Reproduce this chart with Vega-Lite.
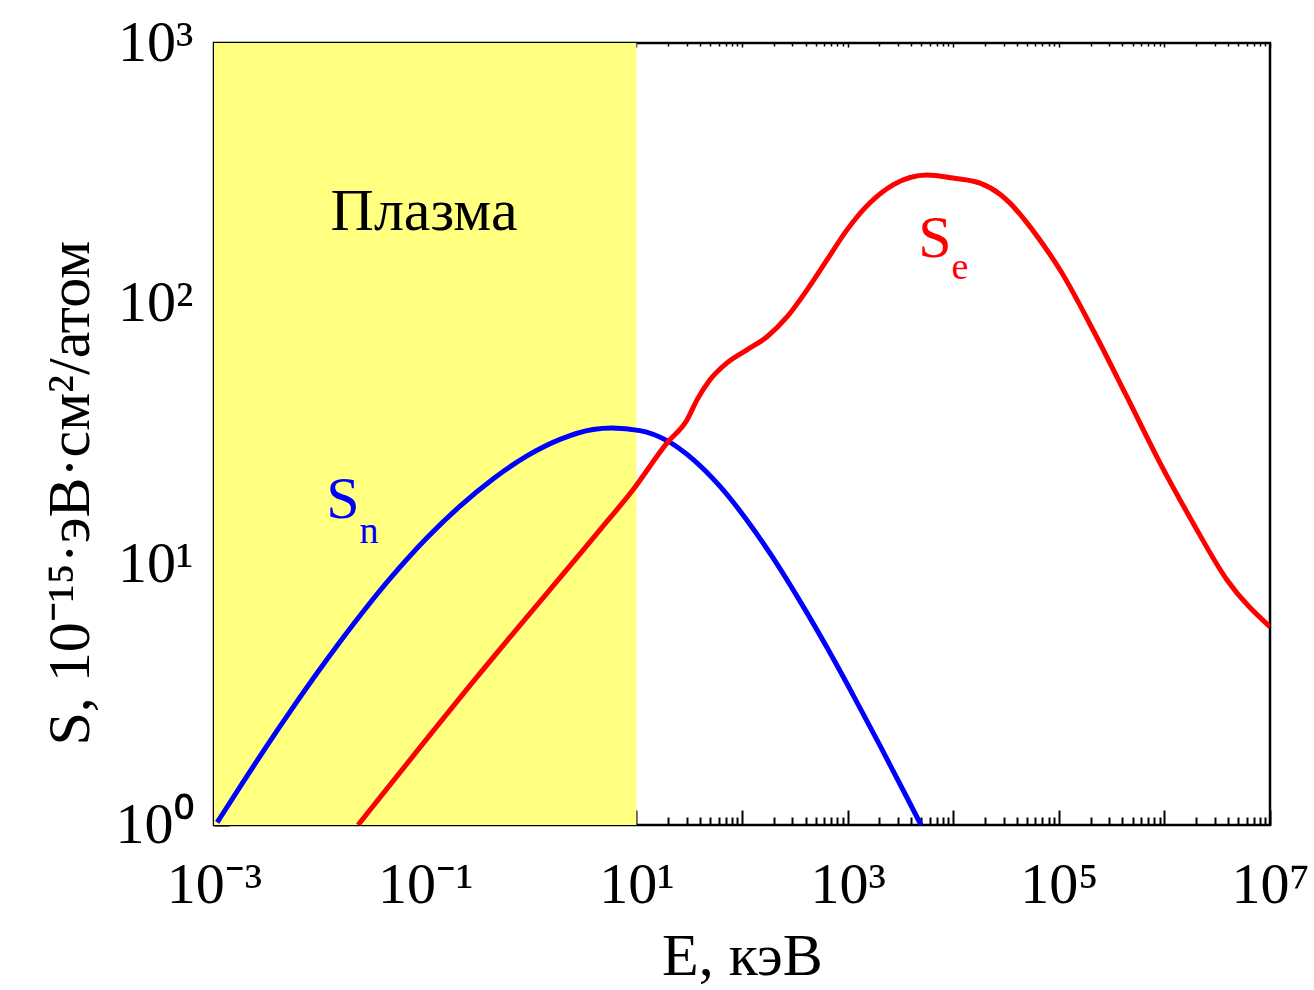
{
  "$schema": "https://vega.github.io/schema/vega-lite/v6.json",
  "width": 1056,
  "height": 782,
  "autosize": {"type": "none"},
  "padding": {"left": 214, "top": 43, "right": 44, "bottom": 165},
  "background": "white",
  "config": {
    "view": {"stroke": "black", "strokeWidth": 2.5},
    "axis": {
      "domain": false,
      "grid": false,
      "tickColor": "black",
      "tickWidth": 2,
      "labelFont": "Liberation Serif",
      "labelFontSize": 58,
      "labelColor": "black",
      "titleFont": "Liberation Serif",
      "titleFontSize": 60,
      "titleFontWeight": "normal",
      "titleColor": "black",
      "labelOverlap": false,
      "labelFlush": false,
      "labelBound": false
    }
  },
  "datasets": {
    "plasma": [{"E0": 0.001, "E1": 10}],
    "curves": [
      {"series": "Sn", "E": 0.001072, "S": 1.023},
      {"series": "Sn", "E": 0.00114, "S": 1.064},
      {"series": "Sn", "E": 0.001884, "S": 1.461},
      {"series": "Sn", "E": 0.003177, "S": 2.017},
      {"series": "Sn", "E": 0.005598, "S": 2.827},
      {"series": "Sn", "E": 0.01009, "S": 3.965},
      {"series": "Sn", "E": 0.01667, "S": 5.228},
      {"series": "Sn", "E": 0.02812, "S": 6.877},
      {"series": "Sn", "E": 0.04955, "S": 9.082},
      {"series": "Sn", "E": 0.104, "S": 12.64},
      {"series": "Sn", "E": 0.2138, "S": 16.73},
      {"series": "Sn", "E": 0.4385, "S": 21.25},
      {"series": "Sn", "E": 0.9204, "S": 26.06},
      {"series": "Sn", "E": 1.892, "S": 30.16},
      {"series": "Sn", "E": 3.882, "S": 32.91},
      {"series": "Sn", "E": 5.875, "S": 33.34},
      {"series": "Sn", "E": 10.81, "S": 32.57},
      {"series": "Sn", "E": 19.5, "S": 29.81},
      {"series": "Sn", "E": 34.36, "S": 25.27},
      {"series": "Sn", "E": 61.94, "S": 19.9},
      {"series": "Sn", "E": 111.4, "S": 14.76},
      {"series": "Sn", "E": 196.8, "S": 10.58},
      {"series": "Sn", "E": 354.0, "S": 7.224},
      {"series": "Sn", "E": 638.3, "S": 4.794},
      {"series": "Sn", "E": 1125, "S": 3.157},
      {"series": "Sn", "E": 2028, "S": 2.015},
      {"series": "Sn", "E": 3656, "S": 1.272},
      {"series": "Sn", "E": 4955, "S": 1.0},
      {"series": "Se", "E": 0.02312, "S": 1.0},
      {"series": "Se", "E": 0.3097, "S": 3.698},
      {"series": "Se", "E": 4.519, "S": 13.55},
      {"series": "Se", "E": 9.29, "S": 19.32},
      {"series": "Se", "E": 19.5, "S": 29.24},
      {"series": "Se", "E": 30.13, "S": 35.81},
      {"series": "Se", "E": 37.5, "S": 42.76},
      {"series": "Se", "E": 49.77, "S": 51.05},
      {"series": "Se", "E": 72.11, "S": 59.29},
      {"series": "Se", "E": 111.4, "S": 66.53},
      {"series": "Se", "E": 172.6, "S": 74.64},
      {"series": "Se", "E": 266.7, "S": 88.92},
      {"series": "Se", "E": 413.0, "S": 113.0},
      {"series": "Se", "E": 638.3, "S": 147.2},
      {"series": "Se", "E": 986.3, "S": 191.9},
      {"series": "Se", "E": 1629, "S": 243.8},
      {"series": "Se", "E": 2692, "S": 285.8},
      {"series": "Se", "E": 5649, "S": 311.9},
      {"series": "Se", "E": 9954, "S": 303.4},
      {"series": "Se", "E": 17950, "S": 290.0},
      {"series": "Se", "E": 27730, "S": 263.0},
      {"series": "Se", "E": 34510, "S": 243.1},
      {"series": "Se", "E": 50000, "S": 204.2},
      {"series": "Se", "E": 71290, "S": 168.2},
      {"series": "Se", "E": 102600, "S": 134.9},
      {"series": "Se", "E": 210900, "S": 79.25},
      {"series": "Se", "E": 442600, "S": 43.85},
      {"series": "Se", "E": 907800, "S": 24.49},
      {"series": "Se", "E": 1866000, "S": 14.42},
      {"series": "Se", "E": 3917000, "S": 8.71},
      {"series": "Se", "E": 10000000, "S": 5.754}
    ],
    "labels": [
      {"series": "plasma", "E": 0.0975, "S": 191.9, "label": "Плазма"},
      {"series": "Sn", "E": 0.01667, "S": 15.07, "label": "S"},
      {"series": "Se", "E": 6730, "S": 151.3, "label": "S"}
    ],
    "subs": [
      {"series": "Sn", "E": 0.02938, "S": 12.08, "label": "n"},
      {"series": "Se", "E": 11590, "S": 124.5, "label": "e"}
    ]
  },
  "layer": [
    {
      "data": {"name": "plasma"},
      "mark": {"type": "rect", "color": "#ffff80"},
      "encoding": {
        "x": {
          "field": "E0", "type": "quantitative",
          "scale": {"type": "log", "domain": [0.001, 10000000], "nice": false},
          "axis": {
            "orient": "bottom",
            "values": [0.001, 0.01, 0.1, 1, 10, 100, 1000, 10000, 100000, 1000000, 10000000],
            "tickSize": -15,
            "labelPadding": 92,
            "labelBaseline": "alphabetic",
            "labelExpr": "datum.value == 0.001 ? '10⁻³' : datum.value == 0.1 ? '10⁻¹' : datum.value == 10 ? '10¹' : datum.value == 1000 ? '10³' : datum.value == 100000 ? '10⁵' : datum.value == 10000000 ? '10⁷' : ''",
            "title": "E, кэВ",
            "titleX": 528,
            "titleY": 149,
            "titleAlign": "center",
            "titleBaseline": "alphabetic"
          }
        },
        "x2": {"field": "E1"}
      }
    },
    {
      "data": {"name": "curves"},
      "mark": {"type": "line", "strokeWidth": 5, "interpolate": "monotone", "clip": true},
      "encoding": {
        "x": {
          "field": "E", "type": "quantitative",
          "scale": {"type": "log", "domain": [0.001, 10000000], "nice": false},
          "axis": {
            "orient": "bottom",
            "values": [0.002,0.003,0.004,0.005,0.006,0.007,0.008,0.009,0.02,0.03,0.04,0.05,0.06,0.07,0.08,0.09,0.2,0.3,0.4,0.5,0.6,0.7,0.8,0.9,2,3,4,5,6,7,8,9,20,30,40,50,60,70,80,90,200,300,400,500,600,700,800,900,2000,3000,4000,5000,6000,7000,8000,9000,20000,30000,40000,50000,60000,70000,80000,90000,200000,300000,400000,500000,600000,700000,800000,900000,2000000,3000000,4000000,5000000,6000000,7000000,8000000,9000000],
            "tickSize": -8,
            "labels": false,
            "title": null
          }
        },
        "y": {
          "field": "S", "type": "quantitative",
          "scale": {"type": "log", "domain": [1, 1000], "nice": false},
          "axis": {
            "orient": "left",
            "values": [1, 10, 100, 1000],
            "tickSize": -15,
            "labelPadding": 36,
            "labelBaseline": "middle",
            "labelAlign": "right",
            "labelExpr": "datum.value == 1 ? '10⁰' : datum.value == 10 ? '10¹' : datum.value == 100 ? '10²' : '10³'",
            "title": "S, 10⁻¹⁵·эВ·см²/атом",
            "titleAngle": -90,
            "titleX": -126,
            "titleY": 702,
            "titleAlign": "left",
            "titleBaseline": "alphabetic"
          }
        },
        "color": {
          "field": "series", "type": "nominal",
          "scale": {"domain": ["Se", "Sn", "plasma"], "range": ["#ff0000", "#0000ff", "#000000"]},
          "legend": null
        }
      }
    },
    {
      "data": {"name": "labels"},
      "mark": {"type": "text", "font": "Liberation Serif", "fontSize": 60, "align": "center", "baseline": "alphabetic"},
      "encoding": {
        "x": {
          "field": "E", "type": "quantitative",
          "scale": {"type": "log", "domain": [0.001, 10000000], "nice": false},
          "axis": {
            "orient": "top",
            "values": [0.001, 0.01, 0.1, 1, 10, 100, 1000, 10000, 100000, 1000000, 10000000],
            "tickSize": -4,
            "tickWidth": 1.5,
            "labels": false,
            "title": null
          }
        },
        "y": {
          "field": "S", "type": "quantitative",
          "scale": {"type": "log", "domain": [1, 1000], "nice": false},
          "axis": {
            "orient": "left",
            "values": [2,3,4,5,6,7,8,9,20,30,40,50,60,70,80,90,200,300,400,500,600,700,800,900],
            "tickSize": -8,
            "labels": false,
            "title": null
          }
        },
        "text": {"field": "label"},
        "color": {"field": "series", "type": "nominal", "legend": null}
      }
    },
    {
      "data": {"name": "subs"},
      "mark": {"type": "text", "font": "Liberation Serif", "fontSize": 38, "align": "center", "baseline": "alphabetic"},
      "encoding": {
        "x": {
          "field": "E", "type": "quantitative",
          "scale": {"type": "log", "domain": [0.001, 10000000], "nice": false},
          "axis": {
            "orient": "top",
            "values": [0.002,0.003,0.004,0.005,0.006,0.007,0.008,0.009,0.02,0.03,0.04,0.05,0.06,0.07,0.08,0.09,0.2,0.3,0.4,0.5,0.6,0.7,0.8,0.9,2,3,4,5,6,7,8,9,20,30,40,50,60,70,80,90,200,300,400,500,600,700,800,900,2000,3000,4000,5000,6000,7000,8000,9000,20000,30000,40000,50000,60000,70000,80000,90000,200000,300000,400000,500000,600000,700000,800000,900000,2000000,3000000,4000000,5000000,6000000,7000000,8000000,9000000],
            "tickSize": -3,
            "tickWidth": 1.5,
            "labels": false,
            "title": null
          }
        },
        "y": {
          "field": "S", "type": "quantitative",
          "scale": {"type": "log", "domain": [1, 1000], "nice": false},
          "axis": null
        },
        "text": {"field": "label"},
        "color": {"field": "series", "type": "nominal", "legend": null}
      }
    }
  ],
  "resolve": {"axis": {"x": "independent", "y": "independent"}}
}
